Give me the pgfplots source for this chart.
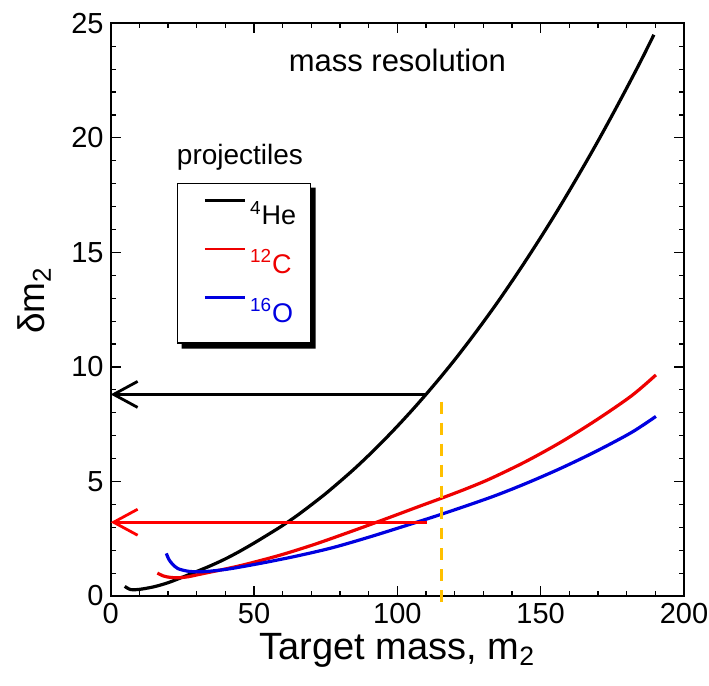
\documentclass[border=0pt]{standalone}
\usepackage{fontspec}
\setmainfont{Liberation Sans}
\usepackage{pgfplots}
\pgfplotsset{compat=1.18}
\usetikzlibrary{arrows.meta}
\definecolor{cred}{HTML}{EE0000}
\definecolor{oblue}{HTML}{0000E0}
\definecolor{cutyellow}{HTML}{FFC000}

\begin{document}
\begin{tikzpicture}
\path[use as bounding box] (-55.35pt,-45pt) rectangle (299.2pt,298.05pt);
\begin{axis}[at={(0,0)}, anchor=south west, scale only axis,
  width=286.7pt, height=286.4pt,
  xmin=0, xmax=200, ymin=0, ymax=25,
  xtick={0,50,...,200}, ytick={0,5,...,25},
  minor x tick num=4, minor y tick num=4,
  tick align=inside, major tick length=5pt, minor tick length=2.5pt,
  axis line style={line width=1pt},
  every tick/.style={black, line width=0.6pt},
  tick label style={font=\fontsize{14.5}{16}\selectfont},
  /pgf/number format/assume math mode=true,
  clip=false,
  xlabel={Target mass, m\textsubscript{2}},
  ylabel={δm\textsubscript{2}},
  every axis x label/.style={at={(axis description cs:0.5,-0.11)}, anchor=base, inner sep=0pt,
    font=\fontsize{19}{21}\selectfont},
  every axis y label/.style={at={(axis description cs:-0.115,0.516)}, rotate=90, anchor=base,
    font=\fontsize{18.5}{20}\selectfont},
  legend cell align=left,
  legend style={name=leg, at={(0.115,0.7217)}, anchor=north west, draw=black, line width=0.6pt,
    fill=white, font=\fontsize{13.5}{15}\selectfont, inner xsep=5pt, inner ysep=7pt, row sep=7pt},
  legend image code/.code={\path (0pt,0pt); \draw[#1, line width=1.3pt] (8pt,0.7em) -- (28pt,0.7em);},
]
% 4He
\addplot[black, line width=1.6pt, smooth] coordinates {
(4.9,0.42) (7,0.28) (10,0.29) (15,0.4) (20,0.58) (25,0.82) (30,1.07) (35,1.33)
(40,1.62) (45,1.95) (50,2.31) (55,2.69) (60,3.08) (65,3.51) (70,3.98) (75,4.47)
(80,5.0) (85,5.55) (90,6.14) (95,6.76) (100,7.41) (105,8.09) (110,8.8) (115,9.54)
(120,10.31) (125,11.12) (130,11.96) (135,12.83) (140,13.74) (145,14.68) (150,15.65)
(155,16.65) (160,17.69) (165,18.76) (170,19.86) (175,21.0) (180,22.17) (185,23.37)
(189.5,24.5)};
% 12C
\addplot[cred, line width=1.6pt, smooth] coordinates {
(16.3,1.0) (18.5,0.87) (21,0.81) (24,0.8) (27,0.84) (30,0.92) (35,1.05) (40,1.18)
(47,1.38) (59,1.78) (71,2.25) (83.5,2.8) (96,3.37) (108,3.93) (115.4,4.27) (124,4.68)
(132.6,5.13) (144.8,5.87) (157.1,6.72) (169.4,7.68) (181.7,8.74) (190.2,9.65)};
% 16O
\addplot[oblue, line width=1.6pt, smooth] coordinates {
(19.4,1.86) (20.3,1.6) (21.5,1.4) (23.4,1.2) (27.1,1.08) (32,1.06) (40.6,1.17)
(52.8,1.44) (65.1,1.75) (77.4,2.11) (89.6,2.55) (101.9,3.03) (115.4,3.57)
(132.6,4.31) (144.8,4.91) (157.1,5.58) (169.4,6.32) (181.7,7.14) (190.2,7.84)};
\legend{\textsuperscript{4}He, \textcolor{cred}{\textsuperscript{12}C}, \textcolor{oblue}{\textsuperscript{16}O}}
% arrows and cut
\addplot[forget plot, black, line width=1.4pt, -{Straight Barb[length=12pt,width=13pt,line width=1.4pt]}]
  coordinates {(110.2,8.8) (0,8.8)};
\addplot[forget plot, red, line width=1.4pt, -{Straight Barb[length=12pt,width=13pt,line width=1.4pt]}]
  coordinates {(110.4,3.22) (0,3.22)};
\addplot[forget plot, cutyellow, line width=1.7pt, dash pattern=on 6pt off 4.5pt]
  coordinates {(115.4,8.49) (115.4,-0.52)};
\node[font=\fontsize{15.5}{17}\selectfont] at (axis cs:100,23.4) {mass resolution};
\node[font=\fontsize{14}{16}\selectfont] at (axis cs:45.1,19.17) {projectiles};
\end{axis}
% legend shadow
\fill[black] ([yshift=-2.5pt]leg.north east) -- ([xshift=2.5pt,yshift=-2.5pt]leg.north east)
  -- ([xshift=2.5pt,yshift=-2.5pt]leg.south east) -- ([xshift=2.5pt,yshift=-2.5pt]leg.south west)
  -- ([xshift=2.5pt]leg.south west) -- (leg.south east) -- cycle;
\end{tikzpicture}
\end{document}
